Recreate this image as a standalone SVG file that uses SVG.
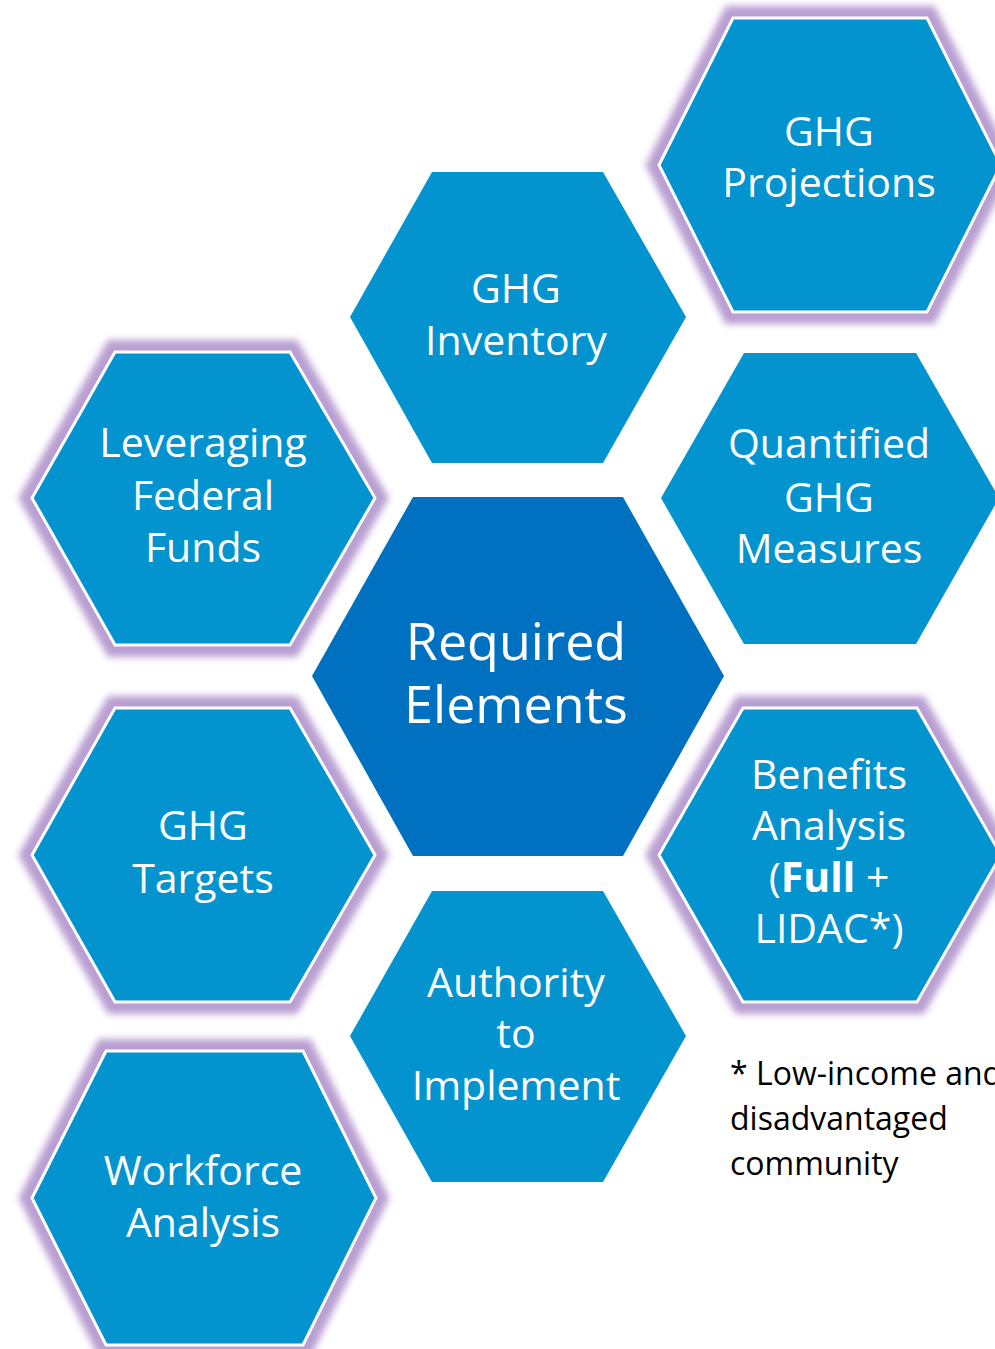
<svg xmlns="http://www.w3.org/2000/svg" width="995" height="1349" viewBox="0 0 995 1349">
<defs>
<filter id="glow" x="-20%" y="-20%" width="140%" height="140%"><feGaussianBlur stdDeviation="3.5"/></filter>
</defs>
<style>
.halo{fill:none;stroke:#B99ED2;stroke-width:24;stroke-linejoin:miter;filter:url(#glow)}
.hex{fill:#0394D0}
.hexg{fill:#0394D0;stroke:#FFFFFF;stroke-width:3;stroke-linejoin:miter}
.core{fill:#0071C1}
.t{font-family:"Open Sans","Noto Sans",sans-serif;font-size:41px;fill:#FFFFFF;text-anchor:middle}
.big{font-size:52px}
.note{font-family:"Open Sans","Noto Sans",sans-serif;font-size:32px;fill:#000000}
</style>
<rect width="995" height="1349" fill="#FFFFFF"/>
<g id="connectors"></g>

<g id="ghg-projections">
<polygon class="halo" points="733,18 927,18 1001,165 927,312 733,312 659,165"/>
<polygon class="hexg" points="733,18 927,18 1001,165 927,312 733,312 659,165"/>
<text class="t" x="829" y="146">GHG</text>
<text class="t" x="829" y="197">Projections</text>
</g>

<g id="ghg-inventory">
<polygon class="hex" points="432,172 603,172 686,317 603,463 432,463 350,317"/>
<text class="t" x="516" y="303">GHG</text>
<text class="t" x="516" y="355">Inventory</text>
</g>

<g id="leveraging-federal-funds">
<polygon class="halo" points="115,352 290,352 375,498 290,645 115,645 32,498"/>
<polygon class="hexg" points="115,352 290,352 375,498 290,645 115,645 32,498"/>
<text class="t" x="203" y="457">Leveraging</text>
<text class="t" x="203" y="510">Federal</text>
<text class="t" x="203" y="562">Funds</text>
</g>

<g id="quantified-ghg-measures">
<polygon class="hex" points="744,353 916,353 999,498 916,644 744,644 661,498"/>
<text class="t" x="829" y="458">Quantified</text>
<text class="t" x="829" y="512">GHG</text>
<text class="t" x="829" y="563">Measures</text>
</g>

<g id="required-elements">
<polygon class="core" points="413,497 623,497 724,676 623,856 413,856 312,676"/>
<text class="t big" x="516" y="660">Required</text>
<text class="t big" x="516" y="723">Elements</text>
</g>

<g id="ghg-targets">
<polygon class="halo" points="115,708 290,708 375,855 290,1002 115,1002 32,855"/>
<polygon class="hexg" points="115,708 290,708 375,855 290,1002 115,1002 32,855"/>
<text class="t" x="203" y="840">GHG</text>
<text class="t" x="203" y="893">Targets</text>
</g>

<g id="benefits-analysis">
<polygon class="halo" points="743,708 917,708 1001,855 917,1002 743,1002 659,855"/>
<polygon class="hexg" points="743,708 917,708 1001,855 917,1002 743,1002 659,855"/>
<text class="t" x="829" y="789">Benefits</text>
<text class="t" x="829" y="840">Analysis</text>
<text class="t" x="829" y="892">(<tspan font-weight="bold">Full</tspan> +</text>
<text class="t" x="829" y="943">LIDAC*)</text>
</g>

<g id="authority-to-implement">
<polygon class="hex" points="432,891 603,891 686,1036 603,1182 432,1182 350,1036"/>
<text class="t" x="516" y="997">Authority</text>
<text class="t" x="516" y="1048">to</text>
<text class="t" x="516" y="1100">Implement</text>
</g>

<g id="workforce-analysis">
<polygon class="halo" points="106,1051 303,1051 376,1198 303,1345 106,1345 32,1198"/>
<polygon class="hexg" points="106,1051 303,1051 376,1198 303,1345 106,1345 32,1198"/>
<text class="t" x="203" y="1185">Workforce</text>
<text class="t" x="203" y="1237">Analysis</text>
</g>

<g id="footnote">
<text class="note" x="730" y="1085">* Low-income and</text>
<text class="note" x="730" y="1130">disadvantaged</text>
<text class="note" x="730" y="1175">community</text>
</g>
</svg>
